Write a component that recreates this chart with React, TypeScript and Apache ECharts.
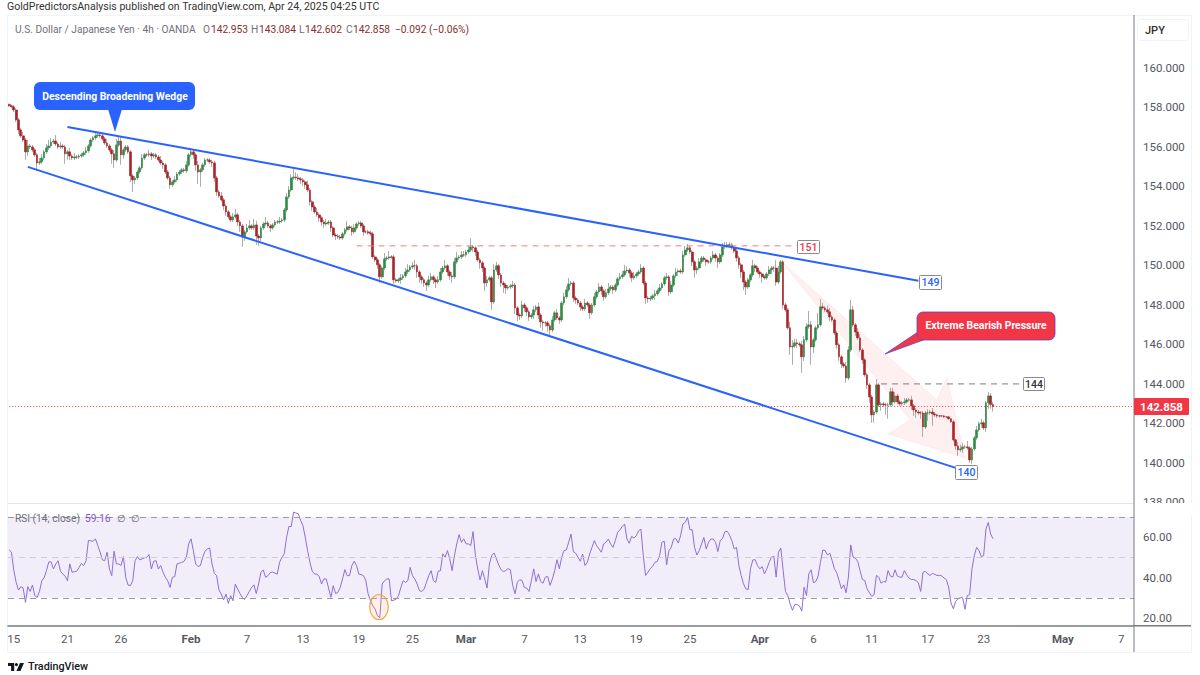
import React, { useEffect, useRef } from "react";
import * as echarts from "echarts";

const closes = [
158.08,158.03,157.87,157.37,156.86,156.56,156.35,155.75,156.05,156.00,
155.85,155.60,155.19,155.24,155.44,155.75,155.95,156.05,156.25,156.30,
156.15,156.00,156.05,156.00,155.65,155.75,155.54,155.44,155.49,155.49,
155.54,155.60,155.70,155.80,156.05,156.35,156.46,156.56,156.61,156.56,
156.41,156.20,156.05,155.85,155.65,155.34,156.10,156.30,155.60,155.85,
156.00,155.75,154.53,154.33,154.43,154.73,154.94,155.44,155.60,155.60,
155.65,155.54,155.60,155.49,155.34,155.19,155.09,154.73,154.43,154.08,
154.23,154.33,154.63,154.73,154.84,154.79,155.09,155.60,155.75,155.60,
155.09,154.73,154.84,155.09,155.34,155.34,155.24,155.19,154.43,153.72,
153.52,153.32,153.01,152.71,152.46,152.30,152.46,152.56,152.20,152.00,
151.44,151.70,151.90,152.00,151.90,152.05,151.49,151.39,151.90,152.10,
152.15,152.00,151.90,152.05,152.20,152.20,152.25,152.30,152.81,153.47,
153.82,154.43,154.48,154.43,154.38,154.33,154.23,154.08,153.82,153.22,
152.96,152.71,152.56,152.41,152.20,152.10,152.15,152.20,151.90,151.54,
151.49,151.44,151.39,151.60,151.80,151.95,151.90,151.70,151.90,152.10,
152.15,152.00,151.70,151.70,151.65,151.60,150.43,150.28,150.03,149.42,
149.87,150.33,150.38,150.43,150.43,149.27,149.22,149.27,149.37,149.47,
149.67,149.77,149.92,149.98,149.98,149.67,149.42,149.27,149.11,149.01,
149.27,149.42,149.27,149.16,149.27,149.67,149.87,149.98,149.67,149.47,
149.42,150.18,150.38,150.43,150.53,150.53,150.68,150.78,150.94,150.89,
150.68,150.28,150.13,149.87,149.11,149.27,149.37,148.15,149.77,149.98,
149.52,149.11,149.01,148.86,148.91,148.96,149.01,147.85,147.49,147.44,
148.00,147.85,147.65,147.39,147.49,147.75,147.90,147.49,147.14,147.09,
147.09,146.94,146.73,147.24,147.60,147.34,147.24,148.10,148.41,148.76,
149.06,149.11,148.35,148.25,148.10,147.90,147.80,148.10,148.00,147.60,
148.00,148.41,148.66,148.91,148.71,148.41,148.61,148.81,148.91,148.76,
149.01,149.32,149.42,149.52,149.72,149.77,149.62,149.37,149.47,149.57,
149.67,149.87,149.11,148.35,148.30,148.35,148.46,148.56,148.71,148.86,
149.06,149.37,149.42,148.66,149.01,149.47,149.67,149.72,149.67,150.53,
150.78,150.89,150.68,150.18,149.77,149.87,150.18,150.38,150.28,150.18,
150.18,150.38,150.53,150.38,150.18,150.53,150.94,150.99,151.04,151.04,
150.89,150.73,150.38,150.03,149.67,149.16,148.91,149.27,149.52,149.98,
149.87,149.67,149.57,149.42,149.37,149.57,149.77,149.87,149.87,149.16,
149.67,150.18,148.00,147.75,146.84,145.87,145.92,146.08,146.03,145.98,
145.37,146.23,146.89,146.99,145.87,146.23,146.84,146.99,147.90,147.85,
147.75,147.65,147.39,147.24,146.58,145.98,145.37,145.01,144.91,144.30,
145.72,147.75,146.99,146.63,146.33,145.72,145.22,144.46,143.95,143.34,
142.43,142.58,143.95,142.94,142.99,142.94,142.94,142.94,143.60,143.09,
143.39,143.09,142.99,143.04,143.09,143.19,143.19,142.89,142.68,142.58,
142.53,142.53,141.82,142.53,142.53,142.58,142.48,142.43,142.38,142.38,
142.38,142.33,142.33,142.23,142.08,141.17,140.86,140.66,140.71,140.81,
140.81,140.76,140.15,140.71,141.27,141.67,141.98,142.03,141.77,143.04,
143.39,142.953,142.858];

const upperWicks = [
.05,.05,.1,.1,.1,.1,.2,.1,.3,.1,
.1,.1,.1,.2,.2,.1,.2,.3,.2,.1,
.3,.1,.2,.1,.1,.1,.2,.1,.2,.1,
.1,.1,.1,.2,.1,.1,.1,.2,.15,.1,
.1,.1,.2,.1,.1,.2,.3,.2,.2,.1,
.1,.1,.1,.1,.1,.1,.1,.2,.1,.1,
.2,.1,.1,.1,.1,.2,.1,.1,.1,.1,
.1,.2,.1,.1,.1,.1,.2,.1,.2,.1,
.1,.2,.1,.1,.1,.1,.1,.1,.1,.1,
.1,.2,.1,.1,.1,.1,.2,.3,.1,.1,
.1,.1,.2,.3,.1,.3,.2,.1,.1,.1,
.3,.1,.1,.1,.1,.1,.2,.1,.1,.2,
.2,.2,.4,.25,.2,.1,.1,.1,.2,.1,
.1,.1,.2,.1,.1,.1,.2,.1,.1,.1,
.1,.1,.1,.1,.1,.3,.1,.1,.2,.1,
.1,.1,.1,.1,.1,.1,.1,.1,.1,.1,
.1,.3,.1,.3,.1,.1,.1,.1,.2,.1,
.2,.3,.1,.2,.3,.1,.1,.1,.1,.1,
.2,.2,.1,.1,.2,.2,.1,.3,.1,.1,
.2,.2,.3,.1,.2,.2,.1,.2,.45,.1,
.1,.1,.1,.1,.1,.2,.1,.1,.3,.2,
.1,.1,.1,.1,.1,.1,.2,.1,.1,.1,
.2,.1,.1,.1,.1,.2,.1,.2,.1,.1,
.1,.1,.1,.2,.1,.2,.1,.1,.2,.2,
.3,.1,.1,.1,.1,.1,.1,.2,.1,.1,
.1,.2,.1,.2,.1,.1,.2,.3,.1,.1,
.1,.1,.2,.2,.3,.2,.1,.1,.2,.1,
.1,.2,.1,.1,.1,.1,.1,.2,.1,.2,
.1,.1,.2,.1,.2,.1,.2,.1,.1,.2,
.2,.2,.1,.1,.1,.1,.2,.1,.1,.1,
.1,.1,.2,.1,.1,.1,.2,.2,.15,.15,
.1,.1,.1,.1,.1,.1,.1,.1,.1,.3,
.1,.1,.1,.1,.1,.1,.2,.1,.1,.4,
.3,.1,.1,.1,.1,.3,.3,.2,.2,.1,
.2,.2,.2,.7,.2,.1,.1,.6,.4,.2,
.1,.2,.2,.1,.1,.1,.1,.1,.1,.2,
.2,.5,.2,.1,.2,.2,.1,.1,.1,.1,
.1,.1,.3,.1,.1,.1,.1,.1,.2,.2,
.2,.1,.1,.1,.2,.1,.1,.2,.1,.1,
.1,.1,.1,.1,.2,.1,.2,.1,.05,.05,
.05,.05,.05,.05,.05,.1,.05,.2,.2,.2,
.1,.3,.1,.1,.1,.2,.1,.2,.1,.1,
.2,.15,.13];

const lowerWicks = [
.05,.05,.1,.1,.2,.1,.1,.4,.2,.1,
.1,.1,.4,.1,.1,.1,.1,.1,.1,.1,
.1,.1,.1,.1,.5,.3,.2,.1,.1,.1,
.1,.1,.1,.1,.1,.1,.1,.1,.1,.1,
.1,.1,.1,.1,.5,.4,.1,.1,.5,.2,
.1,.1,.3,.6,.2,.1,.1,.1,.1,.1,
.1,.2,.1,.1,.1,.1,.2,.1,.1,.2,
.1,.1,.1,.1,.1,.1,.1,.1,.1,.2,
.3,.6,.75,.1,.1,.1,.1,.2,.2,.2,
.1,.1,.2,.2,.1,.1,.1,.1,.2,.3,
.5,.2,.1,.1,.1,.1,.45,.4,.2,.1,
.1,.1,.2,.1,.1,.1,.1,.1,.1,.1,
.1,.1,.1,.1,.1,.2,.2,.2,.1,.2,
.2,.1,.1,.2,.2,.2,.1,.1,.2,.1,
.2,.1,.1,.1,.1,.1,.1,.2,.1,.1,
.1,.1,.2,.1,.1,.1,.1,.1,.2,.3,
.1,.1,.1,.1,.1,.2,.1,.1,.2,.1,
.1,.1,.1,.1,.2,.3,.3,.2,.2,.3,
.1,.1,.2,.3,.1,.1,.1,.1,.2,.2,
.3,.1,.1,.1,.1,.1,.1,.1,.1,.2,
.2,.1,.3,.2,.4,.2,.1,.4,.1,.1,
.2,.2,.4,.3,.1,.1,.1,.3,.3,.2,
.1,.2,.2,.2,.1,.2,.1,.2,.3,.4,
.2,.3,.3,.1,.1,.1,.2,.1,.1,.1,
.1,.1,.2,.2,.1,.2,.1,.1,.1,.3,
.1,.1,.1,.1,.2,.2,.1,.1,.1,.2,
.1,.1,.1,.1,.1,.1,.2,.2,.1,.1,
.1,.1,.1,.3,.2,.1,.1,.2,.1,.1,
.1,.1,.1,.2,.1,.1,.1,.2,.1,.1,
.1,.1,.1,.2,.4,.2,.1,.1,.1,.2,
.1,.1,.1,.2,.3,.1,.1,.1,.1,.1,
.1,.1,.2,.2,.3,.4,.4,.1,.1,.1,
.2,.1,.2,.3,.1,.1,.1,.2,.2,.2,
.1,.1,.2,.1,.1,.4,.9,.1,.2,.1,
.8,.2,.1,.1,.9,.3,.1,.1,.1,.1,
.1,.1,.2,.1,.1,.2,.2,.2,.1,.25,
.1,.1,.1,.2,.1,.1,.2,.1,.2,.3,
.4,.4,.1,.1,.3,.1,.5,.7,.1,.2,
.1,.1,.1,.1,.1,.1,.1,.2,.3,.3,
.1,.3,.5,.1,.4,.1,.6,.1,.1,.1,
.05,.05,.05,.05,.05,.1,.2,.3,.1,.2,
.1,.1,.15,.2,.1,.1,.1,.2,.1,.2,
.3,.2,.26];

const rsiValues = [
53.6,52.5,43.4,37.6,33.8,35.5,34.8,27.7,35.5,33.1,
36.3,31,30.2,33.1,38.4,39.9,43.4,47.7,47.7,44.2,
46.7,48.3,43.1,41.7,40.7,38.4,46.7,42.6,42.9,43.1,
45,47,45.9,48.3,58.3,58.1,57.9,59.1,55.8,52.5,
48.7,48.3,52.5,44.2,40.9,53,46.7,46.7,45.9,50.3,
40.1,36.3,36,38.4,48.3,50.3,48.7,49.2,49.7,50,
51.3,44.2,48,48.3,44.2,45.9,42.6,40.1,38.4,35.1,
40.1,40.4,46.7,47,47.5,47.9,50,56.6,59.1,53.3,
46.7,45.4,45.9,50,53,54.1,54.6,46.7,42.1,40.9,
33.8,31.8,29,31.8,27.2,31,28.5,36.8,34.3,32.1,
30.2,29.2,31,33.1,35.1,36.4,32.1,36.8,42.6,43.7,
40.1,40.9,42.4,42.7,42.1,41.7,47.5,50,51.7,59.9,
65.2,65.2,72.3,71.8,71.5,68.2,65.7,59.9,53.3,47.5,
43.1,41.7,41.7,40.4,36.8,39.3,39.3,34.8,30.2,36,
32.1,32.6,35.1,39.3,43.9,40.9,40.9,45.9,48,45.9,
41.7,41.4,40.9,38.4,31.8,28.5,26,24.4,21.1,20.2,
36.8,38.4,39.3,39.3,28.5,28.8,29.3,31,35.1,38.4,
37.6,38.4,45,40.9,39.3,36.8,33.5,33.1,34.3,37.6,
40.9,43.4,38.4,37.6,43.1,43.4,51.7,50,53.3,49.2,
43.4,50.8,56.6,61.2,57.4,59.1,56.6,56.6,55.8,62.7,
50.8,44.2,38.8,43.4,39.3,34.8,46.7,50.8,52.1,49.2,
46.2,43.9,42.9,43.4,44.4,43.8,36.1,32,37.7,38.9,
38.5,35.1,34.8,33.1,38.5,44.3,38,41.8,38,37.2,
40.2,40.5,36.1,39.3,43.4,48.8,44.3,50,53.3,53.6,
57.4,61.5,52.8,52,50,48,51.6,45.9,47.5,51.6,
54.9,58.2,55.7,54.1,52.5,56.6,57.4,59,56.6,54.9,
58.2,62.3,63.6,65.2,66.4,59,56.9,60.3,59.5,60.6,
63.1,63.9,50.8,41,42.6,44.3,45.6,47.5,47.9,50.8,
57.4,57.9,46.2,53.3,54.9,59,59.2,57,60.6,66.4,
67.2,69.7,63.6,63.6,54.9,51.1,53.3,56.6,59.8,54.1,
57.4,59,59,57.4,52.8,58.2,59.3,62.6,62.8,61,
58.2,54.1,54.9,45.9,41,36.9,34.4,34.1,44.3,48.7,
48.8,45.9,44.3,45.4,41.8,44.3,47.5,50,50.5,40.2,
52.5,54.6,43.4,33.1,31.1,27,23.8,26.7,26.6,25.9,
23.4,35.2,31.1,41.8,43.8,37.4,38,40.7,47.5,53.6,
53.3,51.1,52,48.4,44.3,42.3,38.5,34.4,36.4,32.5,
40.2,56.1,50,49.5,47.9,43.4,39,38.5,34.4,32.5,
30.7,31.5,41,40.2,37.2,38,37.7,43.4,40.7,40.2,
43.8,40.7,40.2,40.2,43.4,41.3,39.7,39,39,38.5,
37.4,33.1,42.6,43.1,41.8,41,42,41.6,41,41.1,
40.8,39.8,38.9,35.3,27.4,24.6,28.2,29.5,30,30,
24.3,31.1,31.5,44.3,50.8,54.9,53.3,50.3,50.8,63.9,
67.2,61.5,59.16];

const firstOpen = 158.15;
const slotCount = 483;
const tickIndices = [2, 25, 48, 78, 102, 126, 150, 173, 196, 221, 245, 269, 292, 322, 345, 370, 394, 418, 452, 477];
const tickLabels = ["15", "21", "26", "Feb", "7", "13", "19", "25", "Mar", "7", "13", "19", "25", "Apr", "6", "11", "17", "23", "May", "7"];
const monthLabels = ["Feb", "Mar", "Apr", "May"];
const priceTicks = [160, 158, 156, 154, 152, 150, 148, 146, 144, 142, 140, 138];
const rsiTicks = [60, 40, 20];
const upperTrend = [[25, 157.01], [390, 149.22]];
const lowerTrend = [[8, 154.99], [406, 139.75]];
const level151 = [[149, 150.99], [338, 150.99]];
const level144 = [[374, 144.0], [435, 144.0]];
const lastPrice = 142.858;

const BLUE = "#2962ff";
const RED = "#f23645";
const UP = "#2f8a45";
const DOWN = "#ab2326";
const WICK = "#a3a3a3";
const FONT = "Roboto";

echarts.graphic.registerShape(
  "tvlogo",
  echarts.graphic.extendPath("M0 0H14V18H7V7H0Z M19 0A3.6 3.6 0 1 1 19 7.2A3.6 3.6 0 1 1 19 0Z M27 0H36L28 18H19Z", {})
);

function box(x: number, y: number, w: number, h: number, text: string, color: string) {
  return [
    { type: "rect", z: 20, shape: { x, y, width: w, height: h, r: 1 }, style: { fill: "#fff", stroke: "#8a8a8a", lineWidth: 1 } },
    { type: "text", z: 21, style: { x: x + w / 2, y: y + h / 2, text, fill: color, font: `500 10.5px ${FONT}`, align: "center", verticalAlign: "middle" } },
  ];
}

function label(x: number, y: number, text: string, fill: string, font = `10.2px ${FONT}`) {
  return { type: "text", z: 21, style: { x, y, text, fill, font, align: "left", verticalAlign: "middle" } };
}

export default function App() {
  const ref = useRef<HTMLDivElement>(null);
  useEffect(() => {
    document.body.style.margin = "0";
    const chart = echarts.init(ref.current!, undefined, { renderer: "svg" });
    const slots = Array.from({ length: slotCount }, (_, i) => `b${i}`);
    const opens = closes.map((_, i) => (i === 0 ? firstOpen : closes[i - 1]));
    const full = closes.map((c, i) => {
      const top = Math.max(opens[i], c);
      const bottom = Math.min(opens[i], c);
      return [opens[i], c, bottom - lowerWicks[i], top + upperWicks[i]];
    });
    const bodies = closes.map((c, i) => [opens[i], c, Math.min(opens[i], c), Math.max(opens[i], c)]);
    const overlay = (data: number[][], color: string, width: number, type: any, z = 3) => ({
      type: "line",
      xAxisIndex: 0,
      yAxisIndex: 0,
      data,
      showSymbol: false,
      symbol: "none",
      silent: true,
      z,
      lineStyle: { color, width, type },
    });
    chart.setOption({
      animation: false,
      backgroundColor: "#ffffff",
      tooltip: { show: false },
      grid: [
        { left: 8, right: 66, top: 15, height: 488 },
        { left: 8, right: 66, top: 504.5, height: 121 },
      ],
      xAxis: [
        { type: "category", gridIndex: 0, data: slots, axisLine: { show: false }, axisTick: { show: false }, axisLabel: { show: false }, splitLine: { show: false } },
        {
          type: "category",
          gridIndex: 1,
          data: slots,
          axisLine: { show: true, lineStyle: { color: "#787b86", width: 1.5 } },
          axisTick: { show: false },
          splitLine: { show: false },
          axisLabel: {
            interval: (index: number) => tickIndices.includes(index),
            formatter: (_: string, index: number) => {
              const t = tickLabels[tickIndices.indexOf(index)] ?? "";
              return monthLabels.includes(t) ? `{m|${t}}` : `{d|${t}}`;
            },
            margin: 7,
            rich: {
              m: { fontFamily: FONT, fontSize: 11.5, fontWeight: "bold", color: "#55585f" },
              d: { fontFamily: FONT, fontSize: 11.5, color: "#55585f" },
            },
          },
        },
      ],
      yAxis: [
        {
          type: "value",
          gridIndex: 0,
          position: "right",
          min: 137.97,
          max: 162.68,
          axisLine: { show: false },
          axisTick: { show: false },
          splitLine: { show: false },
          axisLabel: {
            customValues: priceTicks,
            formatter: (v: number) => v.toFixed(3),
            color: "#55585f",
            fontFamily: FONT,
            fontSize: 11.5,
            margin: 9,
          },
        },
        {
          type: "value",
          gridIndex: 1,
          position: "right",
          min: 16.3,
          max: 76.05,
          axisLine: { show: false },
          axisTick: { show: false },
          splitLine: { show: false },
          axisLabel: {
            customValues: rsiTicks,
            formatter: (v: number) => v.toFixed(2),
            color: "#55585f",
            fontFamily: FONT,
            fontSize: 11.5,
            margin: 9,
          },
        },
      ],
      series: [
        {
          type: "candlestick",
          xAxisIndex: 0,
          yAxisIndex: 0,
          data: full,
          barWidth: 0.6,
          silent: true,
          z: 2,
          itemStyle: { color: WICK, color0: WICK, borderColor: WICK, borderColor0: WICK, borderColorDoji: WICK, borderWidth: 0.9 },
        },
        {
          type: "candlestick",
          xAxisIndex: 0,
          yAxisIndex: 0,
          data: bodies,
          barWidth: 2.2,
          silent: true,
          z: 2,
          itemStyle: { color: UP, color0: DOWN, borderColor: UP, borderColor0: DOWN, borderColorDoji: DOWN, borderWidth: 0.6 },
        },
        overlay(level151, "#f77c80", 1, [6, 5]),
        overlay(level144, "#787b86", 1, [6, 5]),
        overlay(upperTrend, BLUE, 2, "solid"),
        overlay(lowerTrend, BLUE, 2, "solid"),
        overlay([[0, lastPrice], [slotCount - 1, lastPrice]], RED, 1, [1, 2], 1),
        {
          type: "line",
          xAxisIndex: 1,
          yAxisIndex: 1,
          data: rsiValues,
          showSymbol: false,
          symbol: "none",
          silent: true,
          lineStyle: { color: "#8f6fd4", width: 1 },
          markArea: {
            silent: true,
            itemStyle: { color: "rgba(126,87,194,0.1)" },
            data: [[{ yAxis: 70 }, { yAxis: 30 }]],
          },
          markLine: {
            silent: true,
            symbol: "none",
            label: { show: false },
            data: [
              { yAxis: 70, lineStyle: { color: "#9a9aa1", type: [6, 5], width: 1 } },
              { yAxis: 50, lineStyle: { color: "#d0ced4", type: [6, 5], width: 1 } },
              { yAxis: 30, lineStyle: { color: "#9a9aa1", type: [6, 5], width: 1 } },
            ],
          },
        },
      ],
      graphic: [
        {
          type: "polygon",
          z: 1,
          shape: { points: [[782, 262], [937, 400], [947, 377], [965, 458], [888, 434], [910, 420]] },
          style: { fill: "rgba(242,54,69,0.075)", stroke: "rgba(242,54,69,0.06)", lineWidth: 1 },
        },
        { type: "rect", z: 0, shape: { x: 7.5, y: 15.5, width: 1184, height: 637 }, style: { fill: "none", stroke: "#f0f3fa", lineWidth: 1 } },
        { type: "line", z: 0, shape: { x1: 8, y1: 503.5, x2: 1134, y2: 503.5 }, style: { stroke: "#e0e3eb", lineWidth: 1 } },
        { type: "rect", z: 15, shape: { x: 1135, y: 503, width: 60, height: 12 }, style: { fill: "#fff" } },
        { type: "line", z: 16, shape: { x1: 1134, y1: 625.7, x2: 1191, y2: 625.7 }, style: { stroke: "#787b86", lineWidth: 1.5 } },
        { type: "line", z: 16, shape: { x1: 1134, y1: 15, x2: 1134, y2: 652 }, style: { stroke: "#787b86", lineWidth: 1 } },
        label(7, 6.5, "GoldPredictorsAnalysis published on TradingView.com, Apr 24, 2025 04:25 UTC", "#333333", `10.6px ${FONT}`),
        label(15, 29, "U.S. Dollar / Japanese Yen · 4h · OANDA", "#6f7079", `10.2px ${FONT}`),
        label(203, 29, "O", "#6f7079"),
        label(211, 29, "142.953", "#86302f"),
        label(251, 29, "H", "#6f7079"),
        label(259, 29, "143.084", "#86302f"),
        label(299, 29, "L", "#6f7079"),
        label(305, 29, "142.602", "#86302f"),
        label(346, 29, "C", "#6f7079"),
        label(353, 29, "142.858", "#86302f"),
        label(395, 29, "−0.092 (−0.06%)", "#86302f"),
        { type: "rect", z: 20, shape: { x: 1137.5, y: 19.5, width: 51, height: 21, r: 3 }, style: { fill: "#fff", stroke: "#f0f3fa", lineWidth: 1 } },
        label(1145, 30, "JPY", "#2e2e2e", `500 11px ${FONT}`),
        { type: "rect", z: 20, shape: { x: 1134, y: 398, width: 55, height: 17, r: 1 }, style: { fill: RED } },
        { type: "text", z: 21, style: { x: 1161.5, y: 406.5, text: "142.858", fill: "#fff", font: `bold 11.5px ${FONT}`, align: "center", verticalAlign: "middle" } },
        ...box(797.5, 240.5, 22, 13, "151", RED),
        ...box(919.5, 275.5, 22, 14, "149", BLUE),
        ...box(1023.5, 377.5, 21, 13, "144", "#333333"),
        ...box(955.5, 465.5, 22, 14, "140", BLUE),
        { type: "polygon", z: 20, shape: { points: [[108, 109], [122, 109], [115, 132]] }, style: { fill: BLUE } },
        { type: "rect", z: 20, shape: { x: 34, y: 82, width: 161, height: 28, r: 6 }, style: { fill: BLUE } },
        { type: "text", z: 21, style: { x: 115, y: 96, text: "Descending Broadening Wedge", fill: "#fff", font: `bold 10.4px ${FONT}`, align: "center", verticalAlign: "middle" } },
        { type: "polygon", z: 20, shape: { points: [[918, 332], [926, 339], [885, 354]] }, style: { fill: RED, stroke: "#5a45c8", lineWidth: 0.8 } },
        { type: "rect", z: 20, shape: { x: 917, y: 312, width: 138, height: 28, r: 6 }, style: { fill: RED, stroke: "#5a45c8", lineWidth: 0.8 } },
        { type: "polygon", z: 20, shape: { points: [[918.5, 330], [930, 339], [918.5, 339]] }, style: { fill: RED } },
        { type: "text", z: 21, style: { x: 986, y: 325.5, text: "Extreme Bearish Pressure", fill: "#fff", font: `bold 10.4px ${FONT}`, align: "center", verticalAlign: "middle" } },
        label(15, 518, "RSI (14; close)", "#6f7079"),
        label(85, 518, "59.16", "#7e57c2"),
        label(117, 518, "∅", "#6f7079"),
        label(131, 518, "∅", "#6f7079"),
        { type: "ellipse", z: 20, shape: { cx: 379, cy: 607, rx: 9.3, ry: 12.5 }, style: { fill: "rgba(255,170,120,0.16)", stroke: "#f5a742", lineWidth: 1.2 } },
        { type: "tvlogo", z: 21, x: 8, y: 663, scaleX: 0.444, scaleY: 0.444, style: { fill: "#131722" } },
        label(28, 666.5, "TradingView", "#131722", `500 10.8px ${FONT}`),
      ],
    });
    return () => chart.dispose();
  }, []);
  return <div ref={ref} style={{ position: "absolute", left: 0, top: 0, width: 1200, height: 675 }} />;
}
